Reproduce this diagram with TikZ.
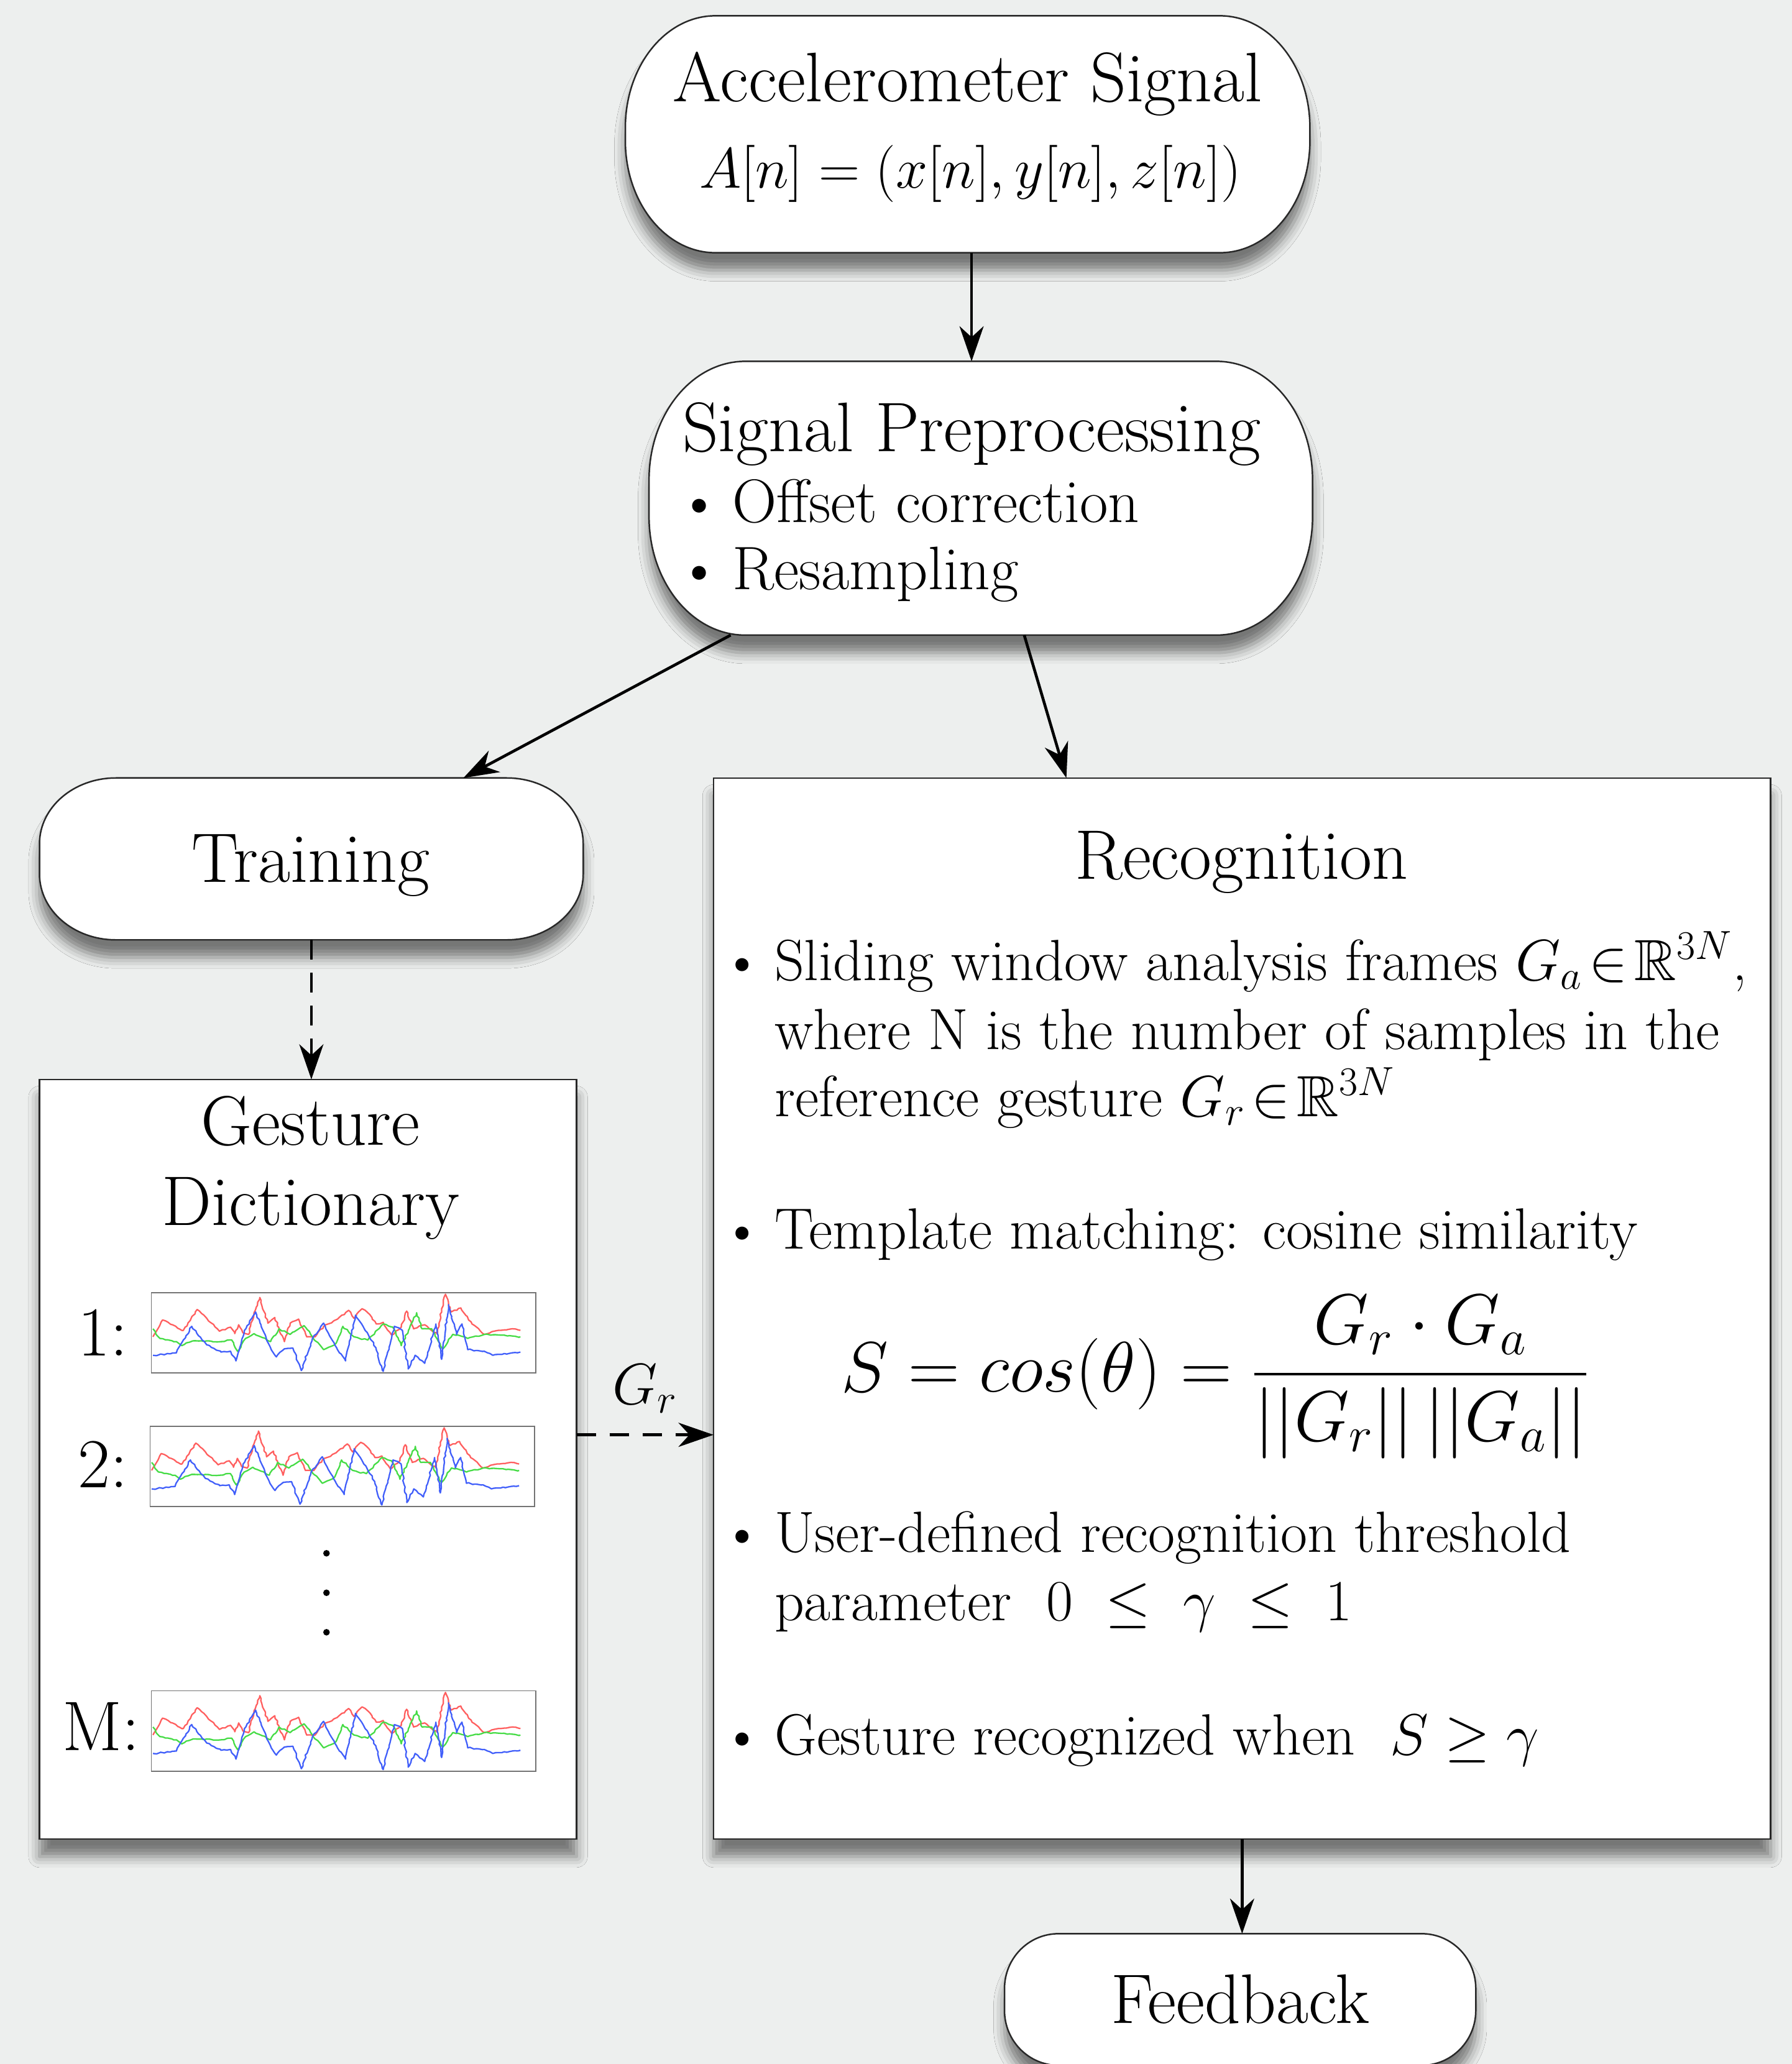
\documentclass[tikz,border=0pt]{standalone}
\usepackage{fix-cm}
\usepackage{amsmath,amssymb}
\usetikzlibrary{arrows.meta,shadows.blur,decorations.pathmorphing}
\definecolor{bgc}{RGB}{237,239,238}
\definecolor{sigred}{RGB}{255,95,95}
\definecolor{siggreen}{RGB}{70,220,70}
\definecolor{sigblue}{RGB}{65,95,250}
\definecolor{edgec}{RGB}{40,40,40}
\newcommand\ttlfs{\fontsize{32}{38}\selectfont}
\newcommand\bdyfs{\fontsize{26.5}{32}\selectfont}
\newcommand\prefs{\fontsize{28}{34}\selectfont}
\newcommand\accfs{\fontsize{26}{32}\selectfont}
\newcommand\frmfs{\fontsize{32.5}{38}\selectfont}
\tikzset{
  shad/.style={blur shadow={shadow xshift=0pt,shadow yshift=-8pt,shadow blur radius=5pt,shadow opacity=50}},
  shapeline/.style={draw=edgec,line width=0.7pt,fill=white,shad},
  termbox/.style={rectangle,draw=none,inner sep=0pt,outer sep=0pt},
  rectbox/.style={rectangle,draw=edgec,line width=0.7pt,fill=white,inner sep=0pt,outer sep=0pt,shad},
  plotbox/.style={rectangle,draw=black!55,line width=0.5pt,fill=white,inner sep=0pt,outer sep=0pt,minimum width=175.2pt,minimum height=36.6pt},
  ttl/.style={font=\ttlfs,inner sep=0pt},
  bdy/.style={font=\bdyfs,inner sep=0pt},
  pretxt/.style={font=\prefs,inner sep=0pt},
  arr/.style={-{Stealth[length=16pt,width=11pt,inset=5pt]},line width=1.3pt,black},
  darr/.style={arr,dash pattern=on 9pt off 6pt},
  sigline/.style={line width=0.65pt,line join=round,decorate,decoration={random steps,segment length=1.3pt,amplitude=0.35pt}}
}
\newcommand\termshape[3]{%
  \draw[shapeline] ([xshift=#2]#1.north west) -- ([xshift=-#2]#1.north east)
    arc[start angle=90,end angle=0,x radius=#2,y radius=#3]
    -- ([yshift=#3]#1.south east)
    arc[start angle=0,end angle=-90,x radius=#2,y radius=#3]
    -- ([xshift=#2]#1.south west)
    arc[start angle=270,end angle=180,x radius=#2,y radius=#3]
    -- ([yshift=-#3]#1.north west)
    arc[start angle=180,end angle=90,x radius=#2,y radius=#3] -- cycle;}
\newcommand\gsig[1]{%
  \begin{scope}[shift={(#1.south west)},x={(175.2pt,0pt)},y={(0pt,36.6pt)}]
  \pgfmathsetseed{11}
  \draw[sigline,sigred] (0.004,0.45) -- (0.029,0.66) -- (0.072,0.55) -- (0.083,0.53) -- (0.119,0.79) -- (0.144,0.68) -- (0.177,0.52) -- (0.206,0.57) -- (0.217,0.49) -- (0.227,0.60) -- (0.238,0.50) -- (0.253,0.48) -- (0.267,0.75) -- (0.282,0.94) -- (0.303,0.62) -- (0.321,0.69) -- (0.346,0.39) -- (0.361,0.62) -- (0.383,0.67) -- (0.404,0.45) -- (0.426,0.45) -- (0.448,0.58) -- (0.484,0.67) -- (0.513,0.78) -- (0.527,0.68) -- (0.548,0.80) -- (0.563,0.75) -- (0.585,0.61) -- (0.603,0.63) -- (0.625,0.47) -- (0.650,0.57) -- (0.664,0.77) -- (0.682,0.55) -- (0.711,0.60) -- (0.744,0.48) -- (0.755,0.80) -- (0.765,0.98) -- (0.780,0.76) -- (0.805,0.81) -- (0.834,0.61) -- (0.866,0.48) -- (0.902,0.53) -- (0.939,0.55) -- (0.960,0.53);
  \draw[sigline,siggreen] (0.004,0.55) -- (0.022,0.43) -- (0.065,0.39) -- (0.079,0.34) -- (0.108,0.40) -- (0.144,0.40) -- (0.181,0.39) -- (0.209,0.41) -- (0.224,0.27) -- (0.245,0.43) -- (0.267,0.49) -- (0.289,0.44) -- (0.310,0.39) -- (0.332,0.55) -- (0.361,0.48) -- (0.397,0.59) -- (0.419,0.45) -- (0.448,0.29) -- (0.477,0.35) -- (0.498,0.58) -- (0.527,0.45) -- (0.563,0.41) -- (0.603,0.61) -- (0.628,0.57) -- (0.650,0.34) -- (0.671,0.55) -- (0.690,0.75) -- (0.704,0.55) -- (0.729,0.55) -- (0.758,0.30) -- (0.784,0.48) -- (0.823,0.43) -- (0.866,0.48) -- (0.960,0.45);
  \draw[sigline,sigblue] (0.004,0.22) -- (0.065,0.25) -- (0.105,0.58) -- (0.144,0.35) -- (0.181,0.26) -- (0.206,0.27) -- (0.220,0.15) -- (0.242,0.53) -- (0.271,0.76) -- (0.303,0.38) -- (0.325,0.20) -- (0.346,0.30) -- (0.368,0.31) -- (0.390,0.03) -- (0.419,0.43) -- (0.448,0.62) -- (0.477,0.35) -- (0.505,0.15) -- (0.531,0.72) -- (0.556,0.53) -- (0.578,0.38) -- (0.603,0.02) -- (0.632,0.58) -- (0.653,0.53) -- (0.668,0.05) -- (0.686,0.22) -- (0.711,0.12) -- (0.740,0.61) -- (0.755,0.17) -- (0.773,0.85) -- (0.794,0.48) -- (0.808,0.61) -- (0.823,0.29) -- (0.866,0.27) -- (0.888,0.22) -- (0.960,0.26);
  \end{scope}}
\begin{document}
\begin{tikzpicture}[x=0.6pt,y=-0.6pt]
\fill[bgc] (0,0) rectangle (1361,1568);
\useasboundingbox (0,0) rectangle (1361,1568);

% Accelerometer Signal
\node[termbox,minimum width=312pt,minimum height=108pt] (acc) at (735,102) {};
\termshape{acc}{41pt}{51pt}
\node[ttl,anchor=base] (acct) at (735,77) {Accelerometer Signal};
\node[font=\accfs,inner sep=0pt,anchor=base] (accf) at (737,143) {$A[n] = (x[n], y[n], z[n])$};

% Signal Preprocessing
\node[termbox,minimum width=302.4pt,minimum height=124.8pt] (pre) at (745,378.5) {};
\termshape{pre}{43.8pt}{54pt}
\node[ttl,anchor=base] (pret) at (738,343) {Signal Preprocessing};
\node[pretxt,anchor=base] (preb1) at (531,397) {\textbullet};
\node[pretxt,anchor=base west] (pre1) at (556,397) {Offset correction};
\node[pretxt,anchor=base] (preb2) at (531,448) {\textbullet};
\node[pretxt,anchor=base west] (pre2) at (556,448) {Resampling};

% Training
\node[termbox,minimum width=247.8pt,minimum height=73.8pt] (train) at (236.5,652.5) {};
\termshape{train}{34.8pt}{30pt}
\node[ttl,anchor=base] (traint) at (236,670) {Training};

% Gesture Dictionary
\node[rectbox,minimum width=244.8pt,minimum height=346.2pt] (dict) at (234,1108.5) {};
\node[ttl,anchor=base] (dictt1) at (236,870) {Gesture};
\node[ttl,anchor=base] (dictt2) at (236,931) {Dictionary};
\node[ttl,anchor=base] (l1) at (78,1030) {1:};
\node[ttl,anchor=base] (l2) at (78,1130) {2:};
\node[ttl,anchor=base] (lM) at (77,1330) {M:};
\node[plotbox] (p1) at (261,1012.5) {};
\node[plotbox] (p2) at (260,1114) {};
\node[plotbox] (pM) at (261,1315) {};
\gsig{p1}
\gsig{p2}
\gsig{pM}
\fill (248,1180) circle (1.5pt);
\fill (248,1210) circle (1.5pt);
\fill (248,1240) circle (1.5pt);

% Recognition
\node[rectbox,minimum width=481.8pt,minimum height=483.6pt] (rec) at (943.5,994) {};
\node[ttl,anchor=base] (rect) at (943,668) {Recognition};
\node[bdy,anchor=base] (rb1) at (564,745) {\textbullet};
\node[bdy,anchor=base west] (r1a) at (588,745) {Sliding window analysis frames $G_a\mkern2mu{\in}\mkern2mu\mathbb{R}^{3N}$,};
\node[bdy,anchor=base west] (r1b) at (588,797) {where N is the number of samples in the};
\node[bdy,anchor=base west] (r1c) at (588,848) {reference gesture $G_r\mkern2mu{\in}\mkern2mu\mathbb{R}^{3N}$};
\node[bdy,anchor=base] (rb2) at (564,949) {\textbullet};
\node[bdy,anchor=base west] (r2) at (588,949) {Template matching: cosine similarity};
\node[font=\frmfs,inner sep=0pt] (frm) at (923,1046) {$\displaystyle S = cos(\theta) = \frac{G_r\cdot G_a}{||G_r||\,||G_a||}$};
\node[bdy,anchor=base] (rb3) at (564,1179) {\textbullet};
\node[bdy,anchor=base west] (r3a) at (588,1179) {User-defined recognition threshold};
\node[bdy,anchor=base west] (r3b) at (588,1231) {parameter \ $0\;\leq\;\gamma\;\leq\;1$};
\node[bdy,anchor=base] (rb4) at (564,1333) {\textbullet};
\node[bdy,anchor=base west] (r4) at (588,1333) {Gesture recognized when \ $S \geq \gamma$};

% Feedback
\node[termbox,minimum width=214.8pt,minimum height=60pt] (feed) at (942,1519) {};
\termshape{feed}{24.6pt}{25pt}
\node[ttl,anchor=base] (feedt) at (942,1537) {Feedback};

% connectors
\draw[arr] ([xshift=1.8pt]acc.south) -- ([xshift=1.8pt]acc.south |- pre.north);
\draw[arr] ([xshift=-114pt]pre.south) -- ([xshift=69.3pt]train.north);
\draw[arr] ([xshift=19.8pt]pre.south) -- ([xshift=-80.1pt]rec.north);
\draw[darr] (train.south) -- (train.south |- dict.north);
\draw[darr] ([yshift=11.1pt]dict.east) -- ([yshift=11.1pt]dict.east -| rec.west)
  node[midway,yshift=21pt,bdy] (grlab) {$G_r$};
\draw[arr] (rec.south) -- (rec.south |- feed.north);
\end{tikzpicture}
\end{document}
